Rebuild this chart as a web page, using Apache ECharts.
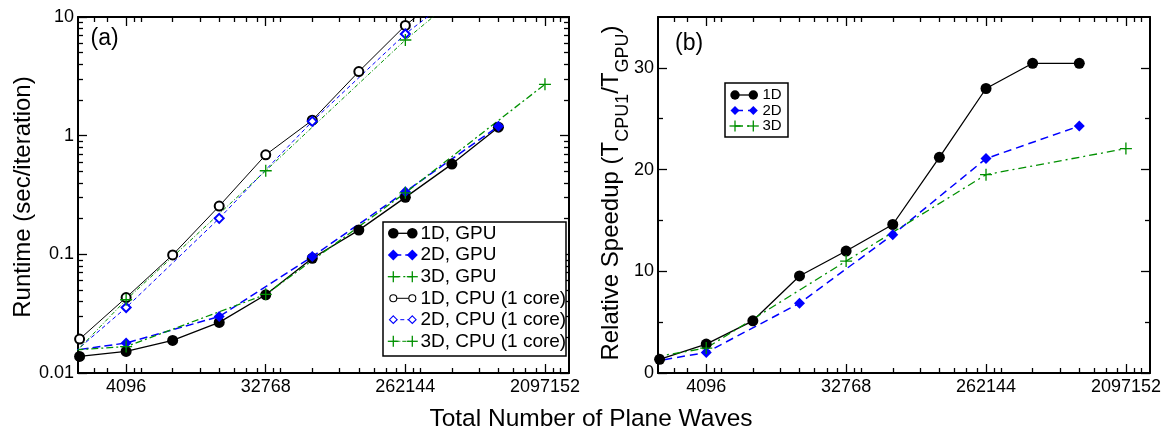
<!DOCTYPE html>
<html><head><meta charset="utf-8">
<script src="https://cdn.jsdelivr.net/npm/echarts@6/dist/echarts.min.js"></script>
<style>html,body{margin:0;padding:0;background:#fff}#c{width:1166px;height:432px}</style>
</head><body><div id="c"></div>
<script>
// ---------------- data ----------------
const n1D = [2048, 4096, 8192, 16384, 32768, 65536, 131072, 262144, 524288, 1048576];
const n2D = [1024, 4096, 16384, 65536, 262144, 1048576];
const n3D = [512, 4096, 32768, 262144, 2097152];

const gpu1D = [0.0138, 0.0152, 0.0188, 0.0267, 0.0456, 0.0927, 0.160, 0.302, 0.576, 1.18];
const gpu2D = [0.0139, 0.0179, 0.0299, 0.0957, 0.337, 1.2];
const gpu3D = [0.0140, 0.0167, 0.046, 0.33, 2.71];
const cpu1D = [0.0193, 0.0432, 0.0989, 0.255, 0.690, 1.35, 3.47, 8.5, 17.5, 36];
const cpu2D = [0.0075, 0.0356, 0.201, 1.32, 7.2, 29];
const cpu3D = [0.0025, 0.0414, 0.506, 6.4, 61];

const speed1D = [1.35, 2.84, 5.13, 9.54, 11.99, 14.6, 21.2, 27.97, 30.45, 30.45];
const speed2D = [0.45, 2.02, 6.86, 13.6, 21.08, 24.28];
const speed3D = [0.1, 2.45, 11.0, 19.5, 22.06];

const xMajorTicks = [4096, 32768, 262144, 2097152];
const xMinorTicks = [2560, 3072, 4608, 5120, 8192, 12288, 16384, 20480, 24576, 28672, 36864, 40960,
  65536, 98304, 131072, 163840, 196608, 229376, 294912, 327680, 524288, 786432, 1048576, 1310720, 1572864, 1835008, 2359296, 2621440];
const xRange = [2000, 3000000];
const yRunMajor = [0.01, 0.1, 1, 10];
const yRunMinor = [0.02, 0.03, 0.04, 0.05, 0.06, 0.07, 0.08, 0.09, 0.2, 0.3, 0.4, 0.5, 0.6, 0.7, 0.8, 0.9, 2, 3, 4, 5, 6, 7, 8, 9];
const yRunRange = [0.01, 10];
const ySpeedMajor = [0, 10, 20, 30];
const ySpeedMinor = [5, 15, 25];
const ySpeedRange = [0, 35];

const namesLeft = ['1D, GPU', '2D, GPU', '3D, GPU', '1D, CPU (1 core)', '2D, CPU (1 core)', '3D, CPU (1 core)'];
const namesRight = ['1D', '2D', '3D'];

// ---------------- styles ----------------
const FONT = '"Liberation Sans", Arial, Helvetica, sans-serif';
const GREEN = '#009000';
const BLUE = '#0000ff';
const PLUS = 'path://M8.9,0H11.1V20H8.9Z M0,8.9H20V11.1H0Z';
const ST = {
  g1: {color: '#000', dash: 'solid', width: 1.3, sym: 'circle', size: 11},
  g2: {color: BLUE, dash: [8, 4], width: 1.5, sym: 'diamond', size: 11},
  g3: {color: GREEN, dash: [7, 3, 2, 3], width: 1.3, sym: PLUS, size: 12},
  c1: {color: '#000', dash: 'solid', width: 1, sym: 'emptyCircle', size: 9},
  c2: {color: BLUE, dash: [4, 3], width: 1, sym: 'emptyDiamond', size: 9},
  c3: {color: GREEN, dash: [4, 2, 1, 2], width: 1, sym: PLUS, size: 12},
  s1: {color: '#000', dash: 'solid', width: 1.3, sym: 'circle', size: 11},
  s2: {color: BLUE, dash: [8, 5], width: 1.5, sym: 'diamond', size: 11},
  s3: {color: GREEN, dash: [8, 4, 2, 4], width: 1.3, sym: PLUS, size: 12}
};

const L2 = Math.log2, L10 = Math.log10;
const XMIN = L2(xRange[0]), XMAX = L2(xRange[1]);

function xAxesFor(grid) {
  const common = (pos, major) => ({
    type: 'value', gridIndex: grid, position: pos, min: XMIN, max: XMAX,
    splitLine: {show: false},
    axisLine: {show: major, onZero: false, lineStyle: {color: '#000', width: 2}},
    axisTick: {show: true, inside: true, length: major ? 9 : 5,
      customValues: (major ? xMajorTicks : xMinorTicks).map(L2),
      lineStyle: {color: '#000', width: 1.3}},
    axisLabel: {show: false}
  });
  const a = common('bottom', true);
  a.axisLabel = {show: true, customValues: xMajorTicks.map(L2), margin: 5, fontSize: 18, color: '#000', fontFamily: FONT,
    formatter: v => String(Math.round(Math.pow(2, v)))};
  return [a, common('bottom', false), common('top', true), common('top', false)];
}
function yAxesFor(grid, kind) {
  const log = kind === 'run';
  const mj = log ? yRunMajor.map(L10) : ySpeedMajor;
  const mn = log ? yRunMinor.map(L10) : ySpeedMinor;
  const rg = log ? yRunRange.map(L10) : ySpeedRange;
  const common = (pos, major) => ({
    type: 'value', gridIndex: grid, position: pos, min: rg[0], max: rg[1],
    splitLine: {show: false},
    axisLine: {show: major, onZero: false, lineStyle: {color: '#000', width: 2}},
    axisTick: {show: true, inside: true, length: major ? 9 : 5, customValues: major ? mj : mn,
      lineStyle: {color: '#000', width: 1.3}},
    axisLabel: {show: false}
  });
  const a = common('left', true);
  a.axisLabel = {show: true, customValues: mj, margin: 4, fontSize: 18, color: '#000', fontFamily: FONT,
    formatter: log ? (v => String(+Math.pow(10, v).toPrecision(3))) : (v => String(Math.round(v)))};
  return [a, common('left', false), common('right', true), common('right', false)];
}

function mkSeries(name, key, xs, ys, xi, yi, isLog) {
  const s = ST[key];
  return {
    type: 'line', name, xAxisIndex: xi, yAxisIndex: yi,
    data: xs.map((x, i) => [L2(x), isLog ? L10(ys[i]) : ys[i]]),
    symbol: s.sym, symbolSize: s.size, showSymbol: true, clip: true,
    lineStyle: {color: s.color, width: s.width, type: s.dash},
    itemStyle: {color: s.color, borderColor: s.color, borderWidth: s.sym.startsWith('empty') ? 1.2 : 0},
    emphasis: {disabled: true}, animation: false
  };
}

const series = [
  mkSeries(namesLeft[0], 'g1', n1D, gpu1D, 0, 0, true),
  mkSeries(namesLeft[1], 'g2', n2D, gpu2D, 0, 0, true),
  mkSeries(namesLeft[2], 'g3', n3D, gpu3D, 0, 0, true),
  mkSeries(namesLeft[3], 'c1', n1D, cpu1D, 0, 0, true),
  mkSeries(namesLeft[4], 'c2', n2D, cpu2D, 0, 0, true),
  mkSeries(namesLeft[5], 'c3', n3D, cpu3D, 0, 0, true),
  mkSeries(namesRight[0], 's1', n1D, speed1D, 4, 4, false),
  mkSeries(namesRight[1], 's2', n2D, speed2D, 4, 4, false),
  mkSeries(namesRight[2], 's3', n3D, speed3D, 4, 4, false)
];

// ---------------- legend drawn as graphics ----------------
function marker(sym, cx, cy, r, color) {
  if (sym === 'circle' || sym === 'emptyCircle') {
    return {type: 'circle', shape: {cx, cy, r}, style: {fill: sym === 'circle' ? color : '#fff', stroke: color, lineWidth: sym === 'circle' ? 0 : 1.1}, z: 101};
  }
  if (sym === 'diamond' || sym === 'emptyDiamond') {
    return {type: 'polygon', shape: {points: [[cx, cy - r], [cx + r, cy], [cx, cy + r], [cx - r, cy]]},
      style: {fill: sym === 'diamond' ? color : '#fff', stroke: color, lineWidth: sym === 'diamond' ? 0 : 1.1}, z: 101};
  }
  return {type: 'group', z: 101, children: [
    {type: 'line', shape: {x1: cx - r, y1: cy, x2: cx + r, y2: cy}, style: {stroke: color, lineWidth: 1.3}, z: 101},
    {type: 'line', shape: {x1: cx, y1: cy - r, x2: cx, y2: cy + r}, style: {stroke: color, lineWidth: 1.3}, z: 101}
  ]};
}
function legendBlock(box, names, keys, rows, m1, m2, tx, fs, radii) {
  const els = [{type: 'rect', shape: {x: box[0], y: box[1], width: box[2], height: box[3]},
    style: {fill: '#fff', stroke: '#000', lineWidth: 1.5}, z: 100}];
  names.forEach((nm, i) => {
    const s = ST[keys[i]], y = rows[i];
    const r = radii[i];
    els.push({type: 'line', shape: {x1: m1, y1: y, x2: m2, y2: y},
      style: {stroke: s.color, lineWidth: s.width, lineDash: s.dash === 'solid' ? null : s.dash}, z: 101});
    const sym = s.sym === PLUS ? 'plus' : s.sym;
    els.push(marker(sym, m1, y, r, s.color));
    els.push(marker(sym, m2, y, r, s.color));
    els.push({type: 'text', x: tx, y: y, z: 101,
      style: {text: nm, font: fs + 'px ' + FONT, fill: '#000', align: 'left', verticalAlign: 'middle'}});
  });
  return els;
}

const graphic = [].concat(
  legendBlock([383, 222, 183, 134], namesLeft, ['g1', 'g2', 'g3', 'c1', 'c2', 'c3'],
    [233.3, 255, 276.7, 298.3, 319.7, 341.3], 393.3, 412.3, 420.5, 19, [5.3, 5.5, 5.5, 3.5, 3.8, 5.5]),
  legendBlock([725, 83, 63, 54], namesRight, ['s1', 's2', 's3'],
    [95, 110.5, 126], 735, 753.3, 762.5, 15, [4.7, 4.5, 5.5]),
  [
    {type: 'text', x: 90.5, y: 38.5, style: {text: '(a)', font: '23px ' + FONT, fill: '#000', verticalAlign: 'middle'}},
    {type: 'text', x: 675, y: 43.5, style: {text: '(b)', font: '23px ' + FONT, fill: '#000', verticalAlign: 'middle'}},
    {type: 'text', x: 591, y: 419, style: {text: 'Total Number of Plane Waves', font: '24.5px ' + FONT, fill: '#000', align: 'center', verticalAlign: 'middle'}},
    {type: 'text', x: 23, y: 197, rotation: Math.PI / 2,
      style: {text: 'Runtime (sec/iteration)', font: '24px ' + FONT, fill: '#000', align: 'center', verticalAlign: 'middle'}},
    {type: 'text', x: 611, y: 193, rotation: Math.PI / 2,
      style: {text: 'Relative Speedup (T{s|CPU1}/T{s|GPU})', font: '24px ' + FONT, fontSize: 24, fontFamily: FONT, lineHeight: 43,
        fill: '#000', align: 'center', verticalAlign: 'middle',
        rich: {s: {fontSize: 18, fontFamily: FONT, lineHeight: 18, verticalAlign: 'bottom', fill: '#000'}}}}
  ]
);

const option = {
  animation: false,
  backgroundColor: '#fff',
  grid: [
    {left: 78, top: 17, width: 491, height: 356, outerBoundsMode: 'none', containLabel: false},
    {left: 658, top: 17, width: 492, height: 356, outerBoundsMode: 'none', containLabel: false}
  ],
  xAxis: xAxesFor(0).concat(xAxesFor(1)),
  yAxis: yAxesFor(0, 'run').concat(yAxesFor(1, 'speed')),
  series,
  graphic
};
const chart = echarts.init(document.getElementById('c'), null, {renderer: 'canvas'});
chart.setOption(option);
</script></body></html>
